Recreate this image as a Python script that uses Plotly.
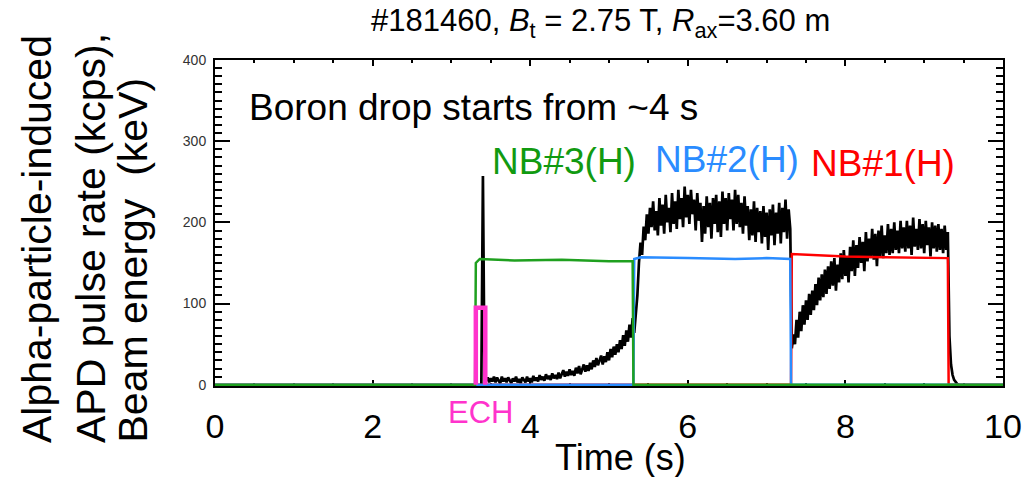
import plotly.graph_objects as go

# ---------------- data ----------------
# Beam energy of the neutral beams (keV)
nb3_time = [0.0, 3.30, 3.31, 3.36, 3.8, 4.4, 5.0, 5.30, 5.31, 10.0]
nb3_energy = [0, 0, 150, 155, 153, 154, 152, 152, 0, 0]

nb2_time = [0.0, 5.31, 5.32, 5.40, 6.0, 6.6, 7.0, 7.30, 7.31, 10.0]
nb2_energy = [0, 0, 155, 157, 156, 155, 156, 155, 0, 0]

nb1_time = [0.0, 7.31, 7.32, 7.5, 8.0, 8.5, 9.0, 9.30, 9.31, 10.0]
nb1_energy = [0, 0, 161, 160, 158, 157, 156, 156, 0, 0]

# ECH pulse marker
ech_time = [3.31, 3.31, 3.43, 3.43]
ech_level = [0, 95, 95, 0]

# Alpha-particle-induced APD pulse rate (kcps), sampled every 0.02 s from 3.36 s
apd_t0 = 3.36
apd_dt = 0.02
apd_rate = [
    0, 0, 257, 12, 5, 9, 3, 8, 4, 10,
    3, 9, 5, 2, 10, 4, 8, 3, 9, 5,
    2, 8, 4, 10, 3, 7, 2, 9, 5, 3,
    10, 4, 8, 3, 11, 5, 9, 4, 12, 6,
    10, 5, 13, 7, 11, 6, 14, 8, 12, 7,
    15, 8, 13, 18, 10, 16, 11, 19, 12, 17,
    11, 21, 14, 23, 13, 20, 25, 16, 24, 17,
    27, 19, 30, 22, 33, 24, 29, 36, 25, 35,
    28, 40, 30, 44, 34, 47, 37, 50, 40, 55,
    44, 61, 48, 67, 53, 74, 58, 82, 64, 88,
    110, 150, 175, 160, 195, 178, 210, 186, 218, 194,
    226, 190, 214, 184, 230, 196, 222, 186, 234, 200,
    218, 188, 236, 198, 226, 192, 240, 204, 230, 194,
    244, 206, 234, 198, 240, 210, 228, 190, 236, 202,
    224, 176, 220, 186, 232, 194, 224, 180, 230, 198,
    234, 188, 226, 182, 238, 198, 230, 190, 236, 204,
    228, 190, 240, 198, 234, 194, 224, 186, 232, 196,
    220, 178, 216, 184, 226, 176, 218, 188, 214, 174,
    220, 182, 212, 166, 216, 184, 222, 172, 212, 186,
    224, 174, 218, 188, 228, 180, 216, 192, 45, 62,
    50, 80, 58, 90, 66, 98, 74, 104, 80, 112,
    86, 116, 92, 124, 98, 132, 104, 136, 108, 142,
    112, 146, 118, 152, 122, 156, 116, 148, 126, 162,
    130, 166, 134, 158, 126, 170, 140, 178, 134, 172,
    144, 182, 150, 176, 140, 188, 152, 180, 156, 192,
    154, 186, 146, 190, 158, 196, 156, 184, 162, 198,
    160, 192, 162, 200, 166, 190, 162, 202, 168, 194,
    164, 202, 168, 196, 160, 206, 170, 192, 166, 204,
    168, 198, 162, 202, 172, 194, 158, 200, 168, 196,
    164, 198, 166, 192, 162, 196, 166, 188, 60, 25,
    12, 6, 3, 1, 0,
]
apd_time = [round(apd_t0 + apd_dt * i, 2) for i in range(len(apd_rate))]

x_ticks = [0, 2, 4, 6, 8, 10]
y_ticks = [0, 100, 200, 300, 400]

GREEN = "#1fa01f"
BLUE = "#2a8cff"
RED = "#ff0000"
MAGENTA = "#ff33cc"
FONT = "Liberation Sans, Arial, sans-serif"

fig = go.Figure()
fig.add_trace(go.Scatter(x=apd_time, y=apd_rate, mode="lines",
                         line=dict(color="black", width=2.7), showlegend=False))
fig.add_trace(go.Scatter(x=nb1_time, y=nb1_energy, mode="lines",
                         line=dict(color=RED, width=2.5), showlegend=False))
fig.add_trace(go.Scatter(x=nb2_time, y=nb2_energy, mode="lines",
                         line=dict(color=BLUE, width=2.5), showlegend=False))
fig.add_trace(go.Scatter(x=nb3_time, y=nb3_energy, mode="lines",
                         line=dict(color=GREEN, width=2.5), showlegend=False))
fig.add_trace(go.Scatter(x=ech_time, y=ech_level, mode="lines",
                         line=dict(color=MAGENTA, width=4.5), showlegend=False))


def px_x(px):
    # window pixel -> paper x
    return (px - 215) / 788


def px_y(py):
    # window pixel -> paper y
    return (386 - py) / 326


annotations = [
    dict(text="#181460, <i>B</i><sub>t</sub> = 2.75 T, <i>R</i><sub>ax</sub>=3.60 m",
         xref="paper", yref="paper", x=px_x(600), y=px_y(23),
         xanchor="center", yanchor="middle", showarrow=False,
         font=dict(size=31, color="black", family=FONT)),
    dict(text="Boron drop starts from ~4 s", xref="x", yref="y",
         x=0.40, y=341, xanchor="left", yanchor="middle", showarrow=False,
         font=dict(size=37, color="black", family=FONT)),
    dict(text="NB#3(H)", xref="x", yref="y", x=3.49, y=275, xanchor="left",
         yanchor="middle", showarrow=False, font=dict(size=37, color="#119a11", family=FONT)),
    dict(text="NB#2(H)", xref="x", yref="y", x=5.56, y=277, xanchor="left",
         yanchor="middle", showarrow=False, font=dict(size=37, color=BLUE, family=FONT)),
    dict(text="NB#1(H)", xref="x", yref="y", x=7.54, y=273, xanchor="left",
         yanchor="middle", showarrow=False, font=dict(size=37, color=RED, family=FONT)),
    dict(text="ECH", xref="paper", yref="paper", x=px_x(480), y=px_y(412),
         xanchor="center", yanchor="middle", showarrow=False,
         font=dict(size=31, color=MAGENTA, family=FONT)),
    dict(text="Time (s)", xref="paper", yref="paper", x=px_x(620), y=px_y(457),
         xanchor="center", yanchor="middle", showarrow=False,
         font=dict(size=36, color="black", family=FONT)),
]
ylab_lines = ["Alpha-particle-induced", "APD pulse rate (kcps),", "Beam energy&nbsp;&nbsp;(keV)"]
ylab_x = [37, 91, 132]
for txt, px in zip(ylab_lines, ylab_x):
    annotations.append(dict(text=txt, xref="paper", yref="paper",
                            x=px_x(px), y=px_y(445),
                            xanchor="center", yanchor="bottom", textangle=-90,
                            showarrow=False,
                            font=dict(size=41, color="black", family=FONT)))

# The page body has an 8 px margin, so the figure is 8 px smaller than the window
fig.update_layout(
    width=1025, height=469,
    margin=dict(l=207, r=30, t=52, b=91),
    paper_bgcolor="white", plot_bgcolor="white",
    font=dict(family=FONT, color="black"),
    annotations=annotations,
    showlegend=False,
)
fig.update_xaxes(range=[0, 10], tickvals=x_ticks, ticktext=[str(v) for v in x_ticks],
                 showgrid=False, zeroline=False, showline=True, linecolor="black",
                 linewidth=2, mirror="ticks", ticks="inside", ticklen=6, tickwidth=2,
                 tickcolor="black", tickfont=dict(size=34, color="black", family=FONT),
                 ticklabelstandoff=9, layer="below traces",
                 minor=dict(dtick=0.5, ticks="inside", ticklen=3, tickwidth=2, tickcolor="black"))
fig.update_yaxes(range=[-1.5, 400], tickvals=y_ticks, ticktext=[str(v) for v in y_ticks],
                 showgrid=False, zeroline=False, showline=True, linecolor="black",
                 linewidth=2, mirror="ticks", ticks="inside", ticklen=15, tickwidth=2,
                 tickcolor="black", tickfont=dict(size=14, color="#333333", family=FONT),
                 ticklabelstandoff=4, layer="below traces",
                 minor=dict(dtick=10, ticks="inside", ticklen=7, tickwidth=2, tickcolor="black"))

fig.write_html("out.html")
